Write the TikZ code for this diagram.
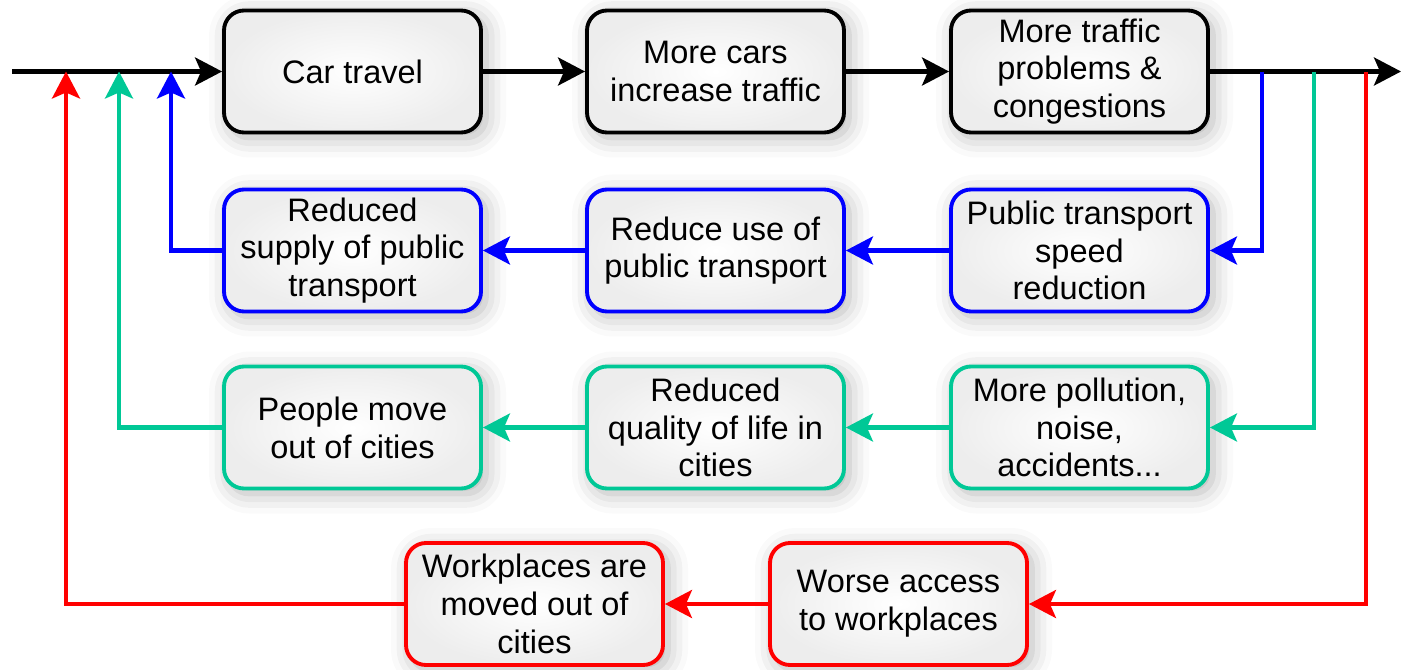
\documentclass[tikz,border=0pt]{standalone}
\usepackage{fontspec}
\setmainfont{Liberation Sans}
\usetikzlibrary{arrows.meta,shadows.blur}

\definecolor{loopblue}{RGB}{0,0,255}
\definecolor{loopgreen}{RGB}{0,200,150}
\definecolor{loopred}{RGB}{255,0,0}

\tikzset{
    effect/.style={draw=#1, line width=2.2pt, rounded corners=0.4cm,
        inner color=white, outer color=gray!14,
        blur shadow={shadow xshift=0.1cm, shadow yshift=-0.1cm,
                     shadow blur radius=0.4cm, shadow opacity=30},
        minimum width=5.14cm, minimum height=2.44cm, align=center,
        font=\fontsize{18.5}{21.5}\selectfont},
    link/.style={draw=#1, line width=2.3pt,
        -{Stealth[length=5.4mm, width=5.6mm, inset=1.2mm]}},
}

\begin{document}
\begin{tikzpicture}
        \useasboundingbox (0,0) rectangle (28.02,13.38);
        %% main chain
        \node[effect=black] (car)     at (7.05,11.95)  {Car travel};
        \node[effect=black] (cars)    at (14.31,11.95) {More cars\\increase traffic};
        \node[effect=black] (traffic) at (21.59,11.95) {More traffic\\problems \&\\congestions};
        %% public transport loop
        \node[effect=loopblue] (supply) at (7.05,8.37)  {Reduced\\supply of public\\transport};
        \node[effect=loopblue] (use)    at (14.31,8.37) {Reduce use of\\public transport};
        \node[effect=loopblue] (speed)  at (21.59,8.37) {Public transport\\speed\\reduction};
        %% quality of life loop
        \node[effect=loopgreen] (move)      at (7.05,4.83)  {People move\\out of cities};
        \node[effect=loopgreen] (quality)   at (14.31,4.83) {Reduced\\quality of life in\\cities};
        \node[effect=loopgreen] (pollution) at (21.59,4.83) {More pollution,\\noise,\\accidents...};
        %% workplaces loop
        \node[effect=loopred] (workplaces) at (10.69,1.30) {Workplaces are\\moved out of\\cities};
        \node[effect=loopred] (access)     at (17.97,1.30) {Worse access\\to workplaces};
        %% points on the main line
        \coordinate (start) at (0.24,11.95);
        \coordinate (end)   at (28.02,11.95);
        \coordinate (rin)   at (1.32,11.95);
        \coordinate (gin)   at (2.38,11.95);
        \coordinate (bin)   at (3.42,11.95);
        \coordinate (bout)  at (25.24,11.95);
        \coordinate (gout)  at (26.28,11.95);
        \coordinate (rout)  at (27.32,11.95);
        %% main line
        \draw[link=black] (start) -- (car);
        \draw[link=black] (car) -- (cars);
        \draw[link=black] (cars) -- (traffic);
        \draw[link=black] (traffic) -- (end);
        %% blue loop
        \draw[link=loopblue] (bout) |- (speed);
        \draw[link=loopblue] (speed) -- (use);
        \draw[link=loopblue] (use) -- (supply);
        \draw[link=loopblue] (supply) -| (bin);
        %% green loop
        \draw[link=loopgreen] (gout) |- (pollution);
        \draw[link=loopgreen] (pollution) -- (quality);
        \draw[link=loopgreen] (quality) -- (move);
        \draw[link=loopgreen] (move) -| (gin);
        %% red loop
        \draw[link=loopred] (rout) |- (access);
        \draw[link=loopred] (access) -- (workplaces);
        \draw[link=loopred] (workplaces) -| (rin);
\end{tikzpicture}
\end{document}
